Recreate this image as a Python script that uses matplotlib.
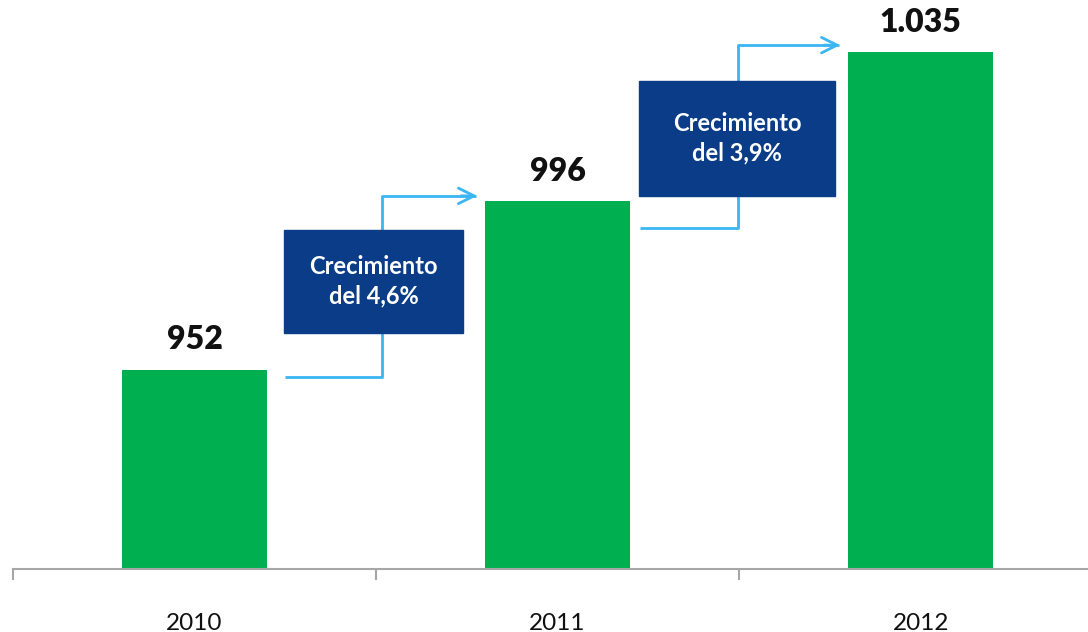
import matplotlib.pyplot as plt
from matplotlib.patches import Rectangle

# datos
years = ["2010", "2011", "2012"]
values = [952, 996, 1035]
growth_labels = ["Crecimiento\ndel 4,6%", "Crecimiento\ndel 3,9%"]

green = "#00b050"
dark_blue = "#0a3c87"
light_blue = "#3ab6f2"
axis_gray = "#a6a6a6"

plt.rcParams["font.family"] = ["Lato", "DejaVu Sans"]

fig = plt.figure(figsize=(10.88, 6.32), dpi=100)
ax = fig.add_axes([13 / 1088, 63.5 / 632, 1 - 13 / 1088, 1 - 63.5 / 632])

x = list(range(len(years)))
width = 0.40
ax.bar(x, values, width=width, color=green, zorder=2)

# eje
for s in ["top", "right", "left"]:
    ax.spines[s].set_visible(False)
ax.spines["bottom"].set_color(axis_gray)
ax.spines["bottom"].set_linewidth(1.5)
ax.set_yticks([])
ax.set_xticks([-0.5, 0.5, 1.5])
ax.set_xticklabels([])
ax.tick_params(axis="x", length=8, width=1.5, color=axis_gray)
ax.set_xlim(-0.5, 2.461)
ax.set_ylim(900, 1048.6)

for xi, y in zip(x, years):
    ax.text(xi, -0.097, y, transform=ax.get_xaxis_transform(), ha="center",
            va="center", fontsize=17.5, color="#111111")

# etiquetas de valor
for xi, v in zip(x, values):
    txt = f"{v:,}".replace(",", ".")
    ax.text(xi, v + 4, txt, ha="center", va="bottom", fontsize=23,
            fontweight="heavy", color="#111111")

# flechas de crecimiento y cajas
gaps = [0.05, 0.027]
elbows = [0.517, 0.497]
offsets = [(-2, 1.4), (-7, 1.8)]
for i, label in enumerate(growth_labels):
    x0 = x[i] + width / 2 + gaps[i]
    xm = x[i] + elbows[i]
    x1 = x[i + 1] - width / 2 - 0.014
    y0 = values[i] + offsets[i][0]
    y1 = values[i + 1] + offsets[i][1]
    ax.plot([x0, xm, xm, x1 - 0.01], [y0, y0, y1, y1], color=light_blue,
            lw=2, solid_capstyle="butt", zorder=1)
    ax.annotate("", xy=(x1, y1), xytext=(x1 - 0.06, y1),
                arrowprops=dict(arrowstyle="->", color=light_blue, lw=2,
                                mutation_scale=28))
    bw = 0.493 if i == 0 else 0.54
    bx = x0 - 0.003
    by0 = (y0 + y1) / 2 - 12.2 if i == 0 else y0 + 8.4
    bh = 27.1 if i == 0 else 30.0
    ax.add_patch(Rectangle((bx, by0), bw, bh, color=dark_blue, zorder=3))
    ax.text(bx + bw / 2, by0 + bh / 2, label, ha="center", va="center",
            fontsize=17, fontweight="bold", color="white", zorder=4,
            linespacing=1.35)

fig.savefig("out.png", dpi=100)
